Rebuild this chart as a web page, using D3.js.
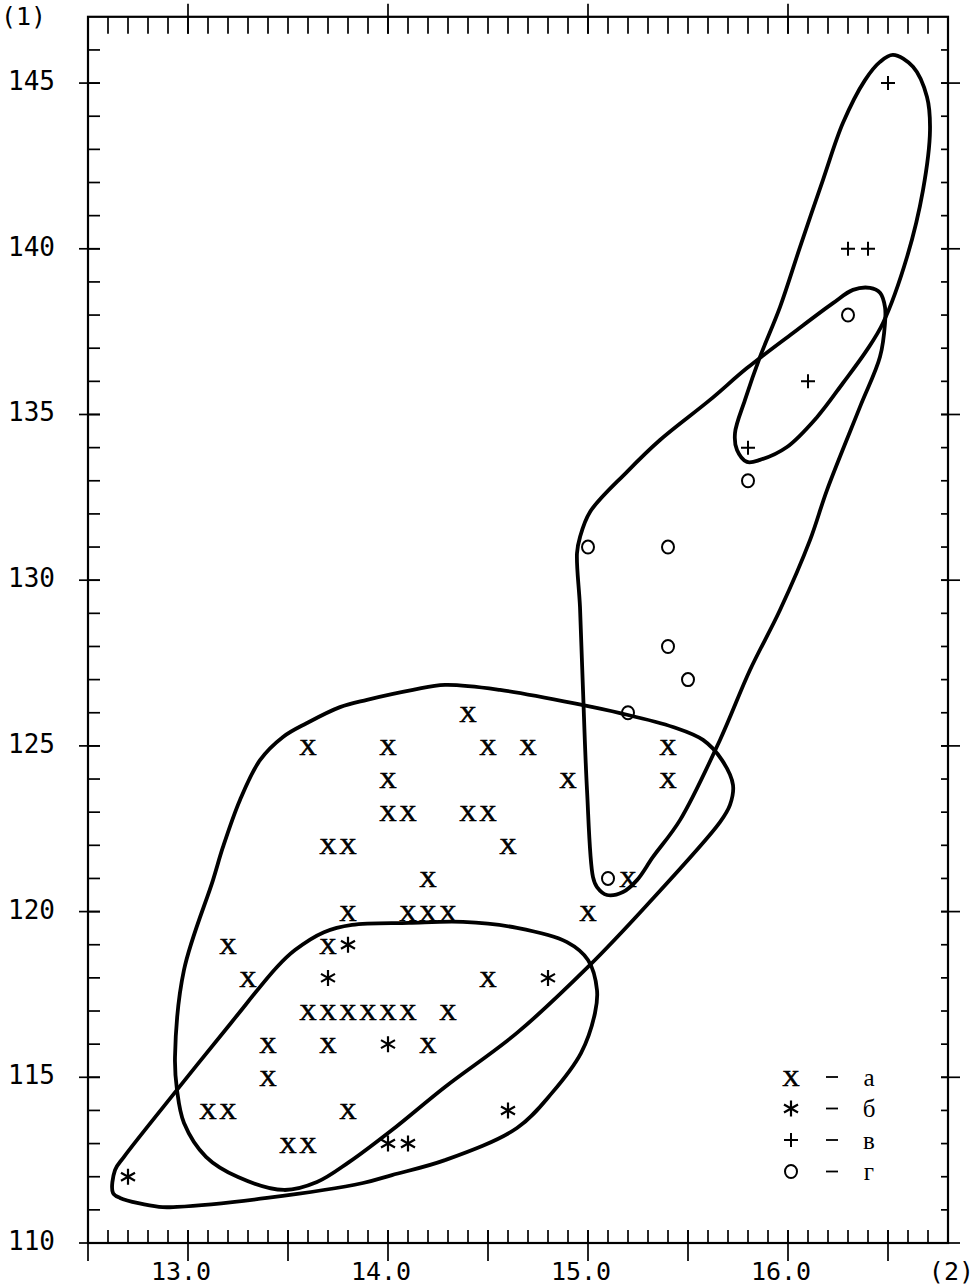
<!DOCTYPE html>
<html><head><meta charset="utf-8">
<script src="https://cdn.jsdelivr.net/npm/d3@7"></script>
<style>
html,body{margin:0;padding:0;background:#fff;}
svg{display:block;}
</style></head>
<body>
<script>
// ---------------- data ----------------
const seriesA = [ // x - а
  [13.6,125],[14.0,125],[14.0,124],[14.0,123],[14.1,123],[14.4,126],[14.5,125],[14.7,125],
  [14.4,123],[14.5,123],[14.9,124],[15.4,125],[15.4,124],[13.7,122],[13.8,122],[14.6,122],
  [14.2,121],[13.8,120],[14.1,120],[14.2,120],[14.3,120],[15.0,120],[15.2,121],[13.2,119],
  [13.7,119],[13.3,118],[14.5,118],[13.6,117],[13.7,117],[13.8,117],[13.9,117],[14.0,117],
  [14.1,117],[14.3,117],[13.4,116],[13.7,116],[14.2,116],[13.4,115],[13.1,114],[13.2,114],
  [13.8,114],[13.5,113],[13.6,113]
];
const seriesB = [ // * - б
  [12.7,112],[14.0,113],[14.1,113],[14.6,114],[14.0,116],[13.7,118],[14.8,118],[13.8,119]
];
const seriesV = [ // + - в
  [16.5,145],[16.3,140],[16.4,140],[16.1,136],[15.8,134]
];
const seriesG = [ // o - г
  [16.3,138],[15.8,133],[15.0,131],[15.4,131],[15.4,128],[15.5,127],[15.2,126],[15.1,121]
];

// contour outlines (data coordinates)
const contourA = [
  [13.36,124.57],[13.475,125.27],[13.595,125.69],[13.76,126.17],[13.895,126.39],[14.125,126.69],
  [14.285,126.84],[14.56,126.69],[14.975,126.23],[15.16,125.99],[15.425,125.57],[15.575,125.18],
  [15.67,124.57],[15.725,123.82],[15.71,123.22],[15.66,122.70],[15.295,120.20],[15.0,118.33],
  [14.645,116.34],[14.285,114.71],[14.02,113.41],[13.805,112.44],[13.645,111.84],[13.48,111.60],
  [13.25,111.99],[13.09,112.60],[12.98,113.62],[12.945,114.62],[12.935,115.61],[12.98,118.24],
  [13.125,120.95],[13.175,121.95],[13.26,123.37]
];
const contourB = [
  [12.625,111.51],[12.66,111.36],[12.855,111.09],[12.945,111.09],[13.395,111.36],[13.875,111.81],
  [14.02,112.05],[14.285,112.50],[14.645,113.47],[14.82,114.53],[14.965,115.73],[15.035,116.94],
  [15.045,117.63],[15.0,118.54],[14.895,119.08],[14.645,119.51],[14.375,119.69],[14.105,119.66],
  [13.82,119.60],[13.68,119.38],[13.535,118.84],[13.445,118.33],[13.215,116.64],[12.945,114.62],
  [12.68,112.60],[12.635,112.20]
];
const contourV = [
  [16.525,145.85],[16.625,145.49],[16.695,144.58],[16.71,143.58],[16.675,141.77],[16.595,139.75],
  [16.475,137.76],[16.395,136.95],[16.275,135.95],[16.145,134.92],[15.995,134.02],[15.86,133.63],
  [15.795,133.57],[15.745,133.93],[15.735,134.44],[15.785,135.44],[15.86,136.74],[15.96,138.24],
  [16.06,140.05],[16.175,142.08],[16.275,143.80],[16.385,145.09],[16.46,145.64]
];
const contourG = [
  [16.325,138.76],[16.41,138.82],[16.46,138.67],[16.485,138.24],[16.485,137.76],[16.46,136.74],
  [16.36,135.23],[16.195,132.72],[16.11,131.21],[15.96,129.10],[15.81,127.29],[15.66,125.18],
  [15.46,122.76],[15.325,121.65],[15.245,120.95],[15.175,120.59],[15.095,120.50],[15.045,120.74],
  [15.025,121.04],[14.995,123.67],[14.975,126.69],[14.96,129.19],[14.945,130.82],[14.96,131.30],
  [15.01,132.06],[15.195,133.27],[15.36,134.23],[15.61,135.44],[15.795,136.40],[16.025,137.46],
  [16.225,138.36]
];

const xTickLabels = ["13.0","14.0","15.0","16.0"];
const xTickValues = [13.0,14.0,15.0,16.0];
const yTickLabels = ["110","115","120","125","130","135","140","145"];
const yTickValues = [110,115,120,125,130,135,140,145];
const legendSymbols = ["x","*","+","o"];
const legendLabels = ["а","б","в","г"];
const xAxisTitle = "(2)";
const yAxisTitle = "(1)";

// ---------------- layout ----------------
const W = 977, H = 1288;
const svg = d3.select("body").append("svg").attr("width",W).attr("height",H);
const x = d3.scaleLinear().domain([12.5,16.8]).range([88,948]);
const y = d3.scaleLinear().domain([110,147]).range([1243,16.8]);
const L = x.range()[0], R = x.range()[1], B = y.range()[0], T = y.range()[1];

const g = svg.append("g");
// frame
g.append("rect").attr("x",L).attr("y",T).attr("width",R-L).attr("height",B-T)
  .attr("fill","none").attr("stroke","#000").attr("stroke-width",2.2);

const tickG = g.append("g").attr("stroke","#000").attr("stroke-width",1.7);
// x minor ticks every 0.1
const xMinor = d3.range(126,168).map(v=>v/10);
xMinor.forEach(v=>{
  tickG.append("line").attr("x1",x(v)).attr("x2",x(v)).attr("y1",B).attr("y2",B-13);
  tickG.append("line").attr("x1",x(v)).attr("x2",x(v)).attr("y1",T).attr("y2",T+17);
});
// bottom major ticks every 0.5 (downward)
d3.range(25,34).map(v=>v/2).forEach(v=>{
  tickG.append("line").attr("x1",x(v)).attr("x2",x(v)).attr("y1",B-13).attr("y2",B+18);
});
// top major ticks at integers (upward)
xTickValues.forEach(v=>{
  tickG.append("line").attr("x1",x(v)).attr("x2",x(v)).attr("y1",T-13).attr("y2",T+17);
});
// y ticks every 1
d3.range(111,147).forEach(v=>{
  tickG.append("line").attr("x1",L).attr("x2",L+12).attr("y1",y(v)).attr("y2",y(v));
  tickG.append("line").attr("x1",R).attr("x2",R-7).attr("y1",y(v)).attr("y2",y(v));
});
yTickValues.forEach(v=>{
  tickG.append("line").attr("x1",L-9).attr("x2",L+12).attr("y1",y(v)).attr("y2",y(v));
  tickG.append("line").attr("x1",R-7).attr("x2",R+12).attr("y1",y(v)).attr("y2",y(v));
});

const tickFont = "'DejaVu Sans Mono', monospace";
// tick labels
g.append("g").selectAll("text").data(yTickValues).join("text")
  .attr("x",55).attr("y",d=>y(d)+7).attr("text-anchor","end")
  .attr("font-family",tickFont).attr("font-size",26).attr("fill","#000")
  .text((d,i)=>yTickLabels[i]);
g.append("g").selectAll("text").data(xTickValues).join("text")
  .attr("x",d=>x(d)-7).attr("y",1280).attr("text-anchor","middle")
  .attr("font-family",tickFont).attr("font-size",25).attr("fill","#000")
  .text((d,i)=>xTickLabels[i]);
g.append("text").attr("x",1).attr("y",25)
  .attr("font-family",tickFont).attr("font-size",25).text(yAxisTitle);
g.append("text").attr("x",974).attr("y",1280).attr("text-anchor","end")
  .attr("font-family",tickFont).attr("font-size",25).text(xAxisTitle);

// contours
const line = d3.line().x(d=>x(d[0])).y(d=>y(d[1])).curve(d3.curveCatmullRomClosed.alpha(0.5));
g.append("g").selectAll("path").data([contourA,contourB,contourV,contourG]).join("path")
  .attr("d",line).attr("fill","none").attr("stroke","#000").attr("stroke-width",3.8)
  .attr("stroke-linejoin","round");

// markers
function drawMarker(sel, type){
  if(type==="x"){
    sel.append("text").attr("text-anchor","middle").attr("dominant-baseline","central")
      .attr("font-family","'Liberation Serif', serif").attr("font-size",24).attr("fill","#000")
      .attr("stroke","#000").attr("stroke-width",0.7)
      .attr("y",1).text("X");
  } else if(type==="*"){
    sel.append("path").attr("d","M0,-8V8M-7,-4L7,4M-7,4L7,-4")
      .attr("stroke","#000").attr("stroke-width",2.2).attr("fill","none");
  } else if(type==="+"){
    sel.append("path").attr("d","M-7,0H7M0,-7V7")
      .attr("stroke","#000").attr("stroke-width",2).attr("fill","none");
  } else {
    sel.append("ellipse").attr("rx",6).attr("ry",6.5)
      .attr("stroke","#000").attr("stroke-width",2).attr("fill","none");
  }
}
const allSeries = [[seriesA,"x"],[seriesB,"*"],[seriesV,"+"],[seriesG,"o"]];
allSeries.forEach(([data,type])=>{
  g.append("g").selectAll("g").data(data).join("g")
    .attr("transform",d=>`translate(${x(d[0])},${y(d[1])})`)
    .each(function(){ drawMarker(d3.select(this), type); });
});

// legend
const lg = g.append("g");
legendSymbols.forEach((s,i)=>{
  const yy = 1077 + i*31.5;
  const item = lg.append("g").attr("transform",`translate(791,${yy})`);
  drawMarker(item, s);
  lg.append("line").attr("x1",826).attr("x2",838).attr("y1",yy).attr("y2",yy)
    .attr("stroke","#000").attr("stroke-width",1.8);
  lg.append("text").attr("x",869).attr("y",yy).attr("text-anchor","middle").attr("dominant-baseline","central")
    .attr("font-family","'Liberation Serif', serif").attr("font-size",25).text(legendLabels[i]);
});
</script>
</body></html>
